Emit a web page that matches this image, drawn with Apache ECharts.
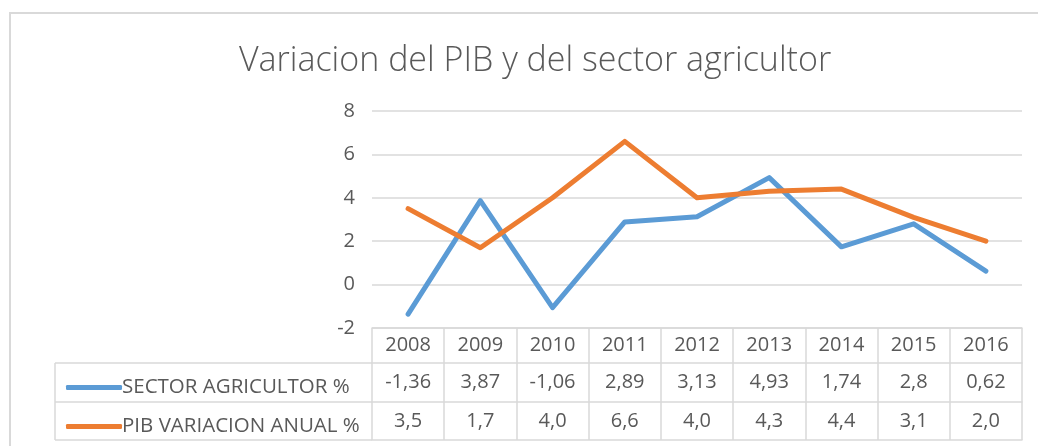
<!DOCTYPE html>
<html>
<head>
<meta charset="utf-8">
<script src="https://cdn.jsdelivr.net/npm/echarts@6/dist/echarts.min.js"></script>
<style>
  html, body { margin: 0; padding: 0; background: #fff; }
  #chart { width: 1038px; height: 446px; }
</style>
</head>
<body>
<div id="chart"></div>
<script>
var years = ["2008", "2009", "2010", "2011", "2012", "2013", "2014", "2015", "2016"];
var sectorAgricultor = [-1.36, 3.87, -1.06, 2.89, 3.13, 4.93, 1.74, 2.8, 0.62];
var pibVariacion = [3.5, 1.7, 4.0, 6.6, 4.0, 4.3, 4.4, 3.1, 2.0];
var sectorLabels = ["-1,36", "3,87", "-1,06", "2,89", "3,13", "4,93", "1,74", "2,8", "0,62"];
var pibLabels = ["3,5", "1,7", "4,0", "6,6", "4,0", "4,3", "4,4", "3,1", "2,0"];
var yTicks = { min: -2, max: 8, interval: 2 };

var FONT = "Open Sans";
var TEXT = "#595959";
var LINE = "#d9d9d9";
var BLUE = "#5b9bd5";
var ORANGE = "#ed7d31";
var FS = 20;

var chart = echarts.init(document.getElementById("chart"));

// one x axis per table row, stacked with offset
function tableAxis(offset, tickLen, labels, margin) {
    return {
        type: "category",
        data: years,
        position: "bottom",
        offset: offset,
        boundaryGap: true,
        axisLine: { show: true, onZero: false, lineStyle: { color: LINE, width: 1.5 } },
        axisTick: { show: tickLen > 0, length: tickLen, lineStyle: { color: LINE, width: 1.5 } },
        axisLabel: {
            show: !!labels,
            margin: margin,
            color: TEXT,
            fontFamily: FONT,
            fontSize: FS,
            formatter: function (v, i) { return labels ? labels[i] : ""; }
        },
        splitLine: { show: false }
    };
}

var option = {
    animation: false,
    backgroundColor: "#fff",
    title: {
        text: "Variacion del PIB y del sector agricultor",
        left: 530,
        textAlign: "center",
        top: 39,
        textStyle: { color: TEXT, fontFamily: FONT, fontWeight: 300, fontSize: 34 }
    },
    legend: {
        orient: "vertical",
        left: 61,
        top: 372,
        itemGap: 18,
        itemWidth: 56,
        itemHeight: 5,
        icon: "roundRect",
        textStyle: { color: TEXT, fontFamily: FONT, fontSize: 20.5, lineHeight: 20, padding: [0, 0, 0, -5] },
        data: ["SECTOR AGRICULTOR %", "PIB VARIACION ANUAL %"]
    },
    grid: { left: 372, right: 16, top: 111, bottom: 118 },
    xAxis: [
        tableAxis(0, 35, years, 7),
        tableAxis(35, 39, sectorLabels, 9),
        tableAxis(74, 38, pibLabels, 9),
        tableAxis(112, 0, null, 8)
    ],
    yAxis: {
        type: "value",
        min: yTicks.min,
        max: yTicks.max,
        interval: yTicks.interval,
        axisLine: { show: false },
        axisTick: { show: false },
        axisLabel: { color: TEXT, fontFamily: FONT, fontSize: FS, margin: 17 },
        splitLine: { lineStyle: { color: LINE, width: 1.5 } }
    },
    series: [
        {
            name: "SECTOR AGRICULTOR %",
            type: "line",
            data: sectorAgricultor,
            symbol: "none",
            color: BLUE,
            lineStyle: { width: 5, color: BLUE, cap: "round", join: "round" }
        },
        {
            name: "PIB VARIACION ANUAL %",
            type: "line",
            data: pibVariacion,
            symbol: "none",
            color: ORANGE,
            lineStyle: { width: 5, color: ORANGE, cap: "round", join: "round" }
        }
    ],
    graphic: [
        // chart area border
        { type: "rect", silent: true, shape: { x: 10, y: 13, width: 1100, height: 500 },
          style: { fill: null, stroke: LINE, lineWidth: 2 } },
        // legend column of the data table
        { type: "line", silent: true, shape: { x1: 55, y1: 363, x2: 372, y2: 363 }, style: { stroke: LINE, lineWidth: 1.5 } },
        { type: "line", silent: true, shape: { x1: 55, y1: 402, x2: 372, y2: 402 }, style: { stroke: LINE, lineWidth: 1.5 } },
        { type: "line", silent: true, shape: { x1: 55, y1: 440, x2: 372, y2: 440 }, style: { stroke: LINE, lineWidth: 1.5 } },
        { type: "line", silent: true, shape: { x1: 55, y1: 363, x2: 55, y2: 440 }, style: { stroke: LINE, lineWidth: 1.5 } }
    ]
};

chart.setOption(option);
</script>
</body>
</html>
